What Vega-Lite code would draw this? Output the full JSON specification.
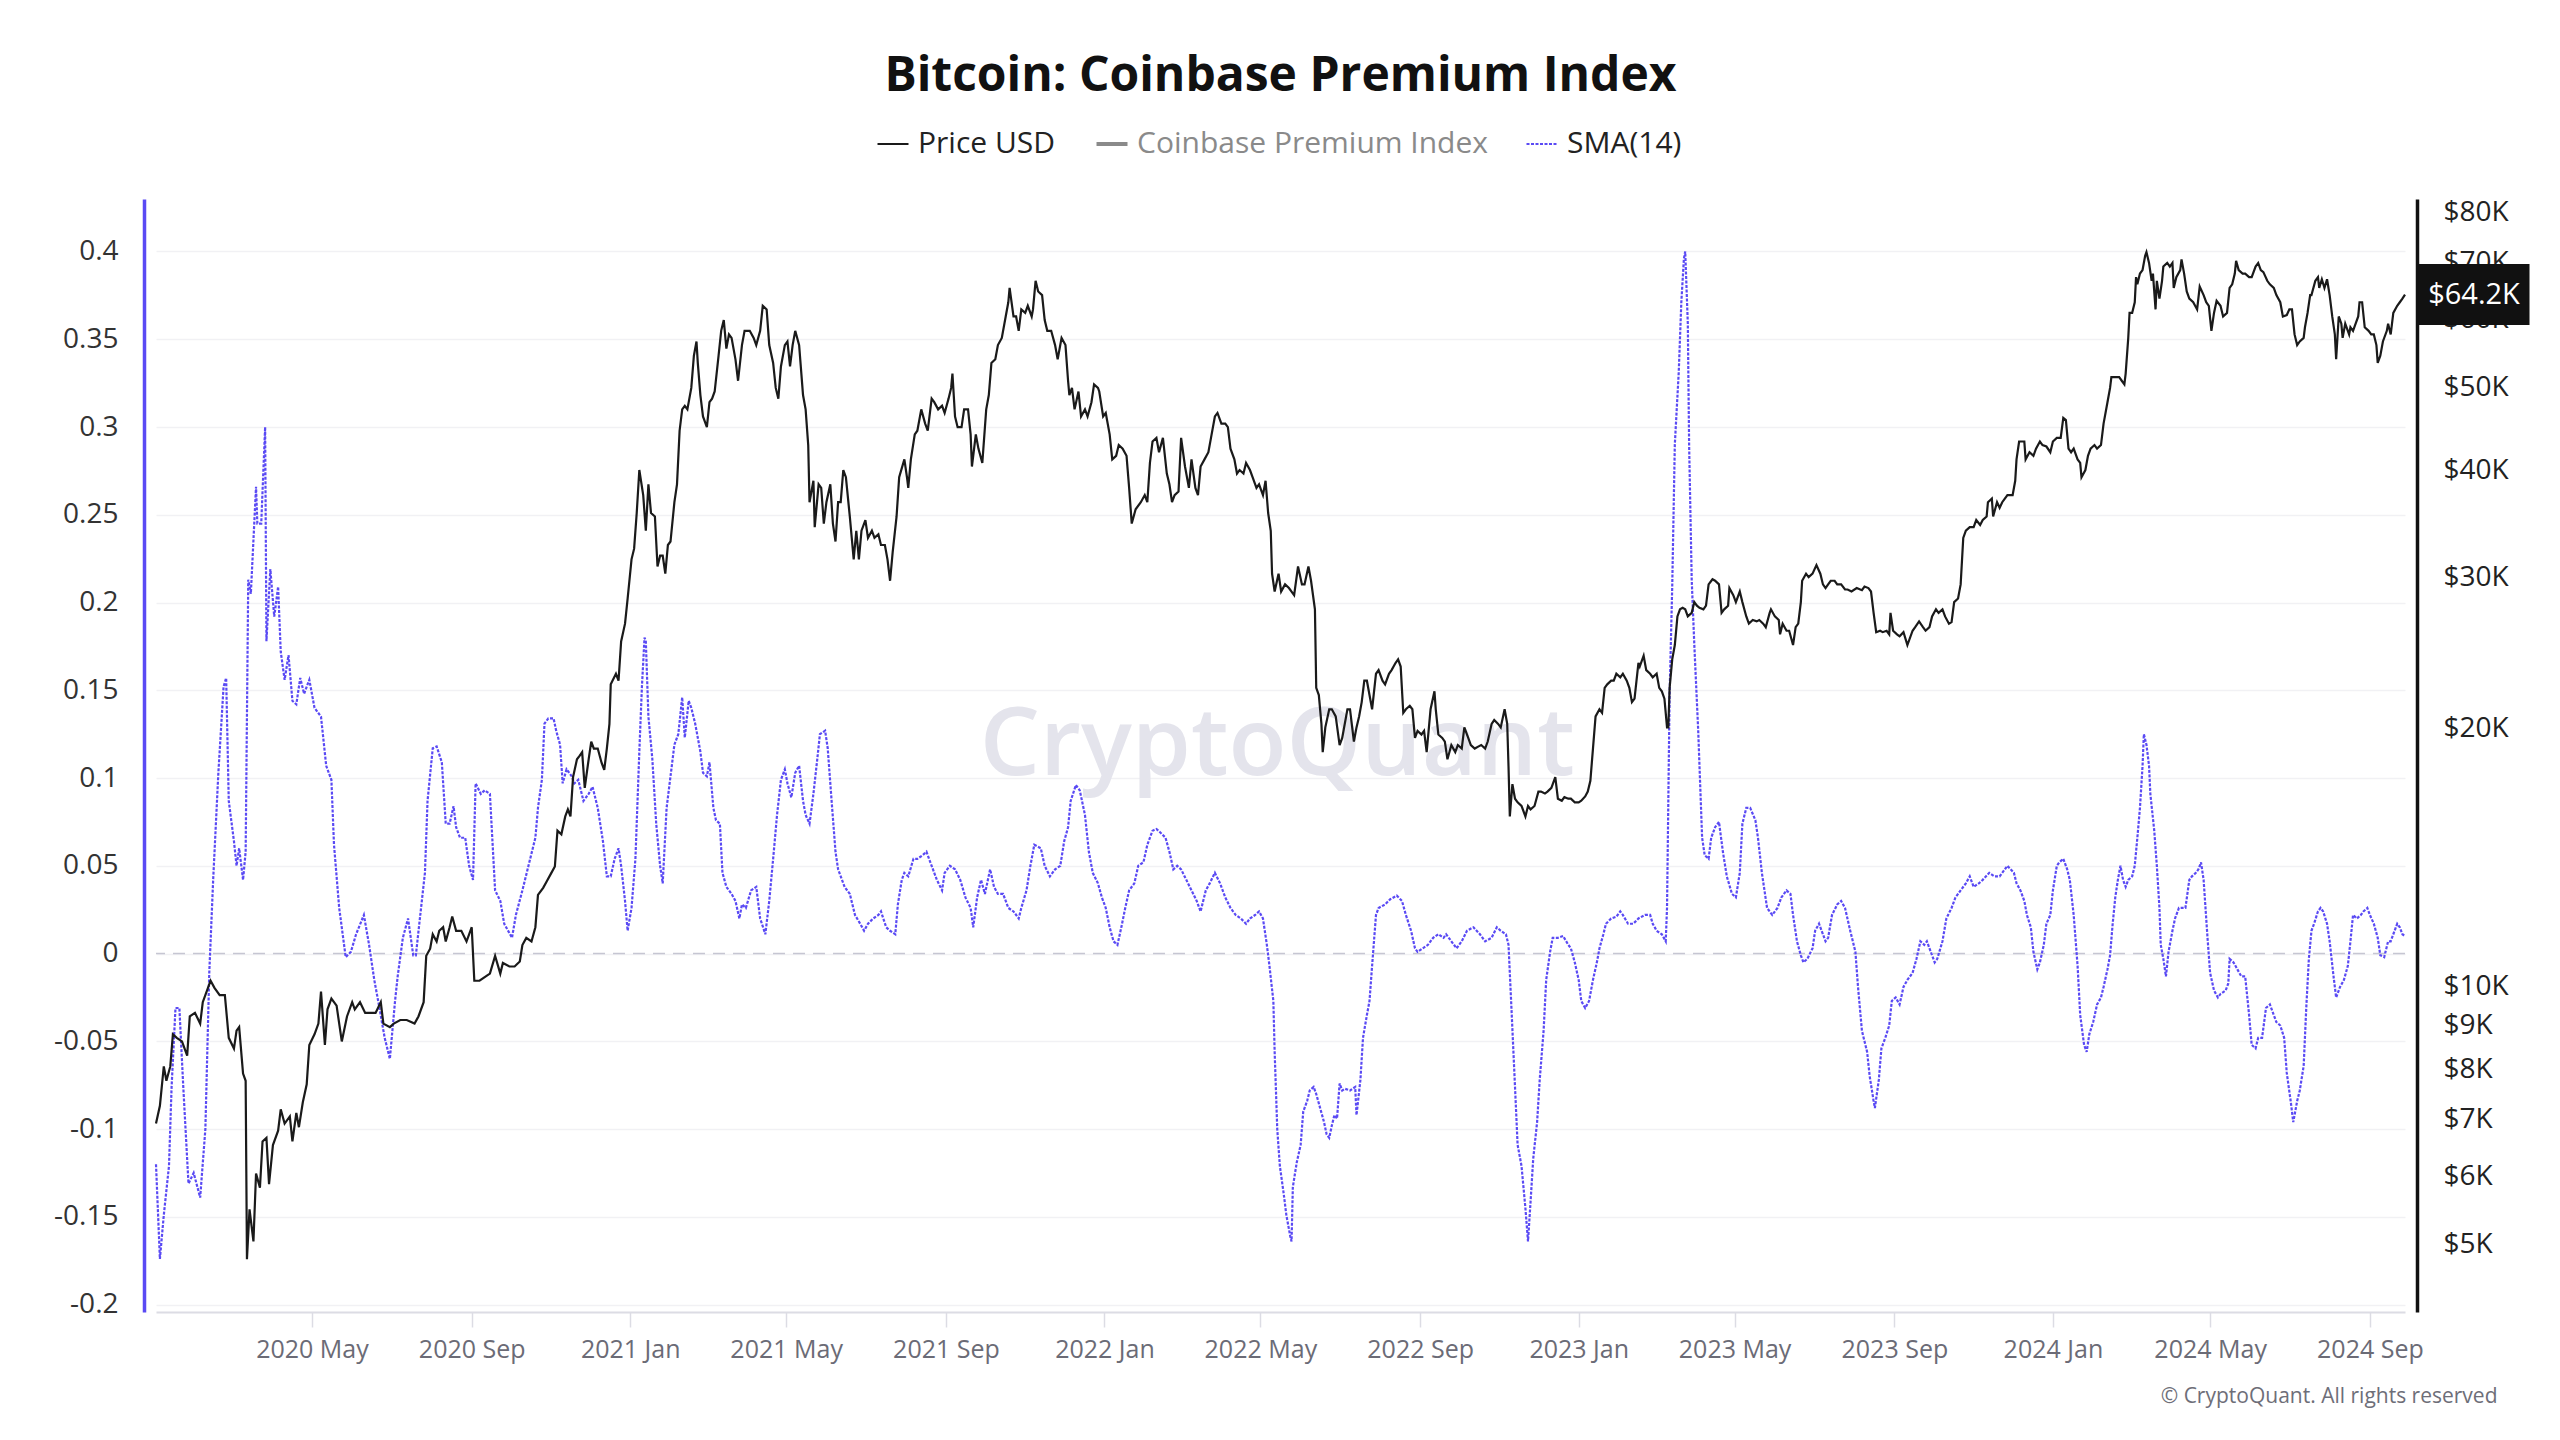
{
  "$schema": "https://vega.github.io/schema/vega-lite/v6.json",
  "width": 2249,
  "height": 1113,
  "autosize": {"type": "none"},
  "padding": {"left": 156, "top": 199, "right": 155, "bottom": 128},
  "background": "white",
  "title": {"text": "Bitcoin: Coinbase Premium Index", "frame": "group", "anchor": "middle", "font": "Open Sans", "fontSize": 48, "fontWeight": "bold", "color": "#111111", "offset": 28},
  "config": {"view": {"stroke": null}, "font": "Open Sans"},
  "datasets": {
    "price": [
      {"d":"2020-01-02","v":6923},{"d":"2020-01-05","v":7261},{"d":"2020-01-08","v":8072},{"d":"2020-01-10","v":7767},{"d":"2020-01-13","v":8072},{"d":"2020-01-15","v":8800},{"d":"2020-01-18","v":8716},{"d":"2020-01-22","v":8633},{"d":"2020-01-26","v":8308},{"d":"2020-01-28","v":9232},
      {"d":"2020-02-01","v":9321},{"d":"2020-02-05","v":9056},{"d":"2020-02-07","v":9593},{"d":"2020-02-11","v":9968},{"d":"2020-02-13","v":10161},{"d":"2020-02-16","v":9968},{"d":"2020-02-20","v":9778},{"d":"2020-02-24","v":9778},{"d":"2020-02-27","v":8716},
      {"d":"2020-03-02","v":8469},{"d":"2020-03-04","v":8885},{"d":"2020-03-06","v":8971},{"d":"2020-03-09","v":7918},{"d":"2020-03-11","v":7767},{"d":"2020-03-12","v":4808},{"d":"2020-03-14","v":5499},{"d":"2020-03-17","v":5044},{"d":"2020-03-19","v":6054},{"d":"2020-03-22","v":5828},{"d":"2020-03-24","v":6598},{"d":"2020-03-27","v":6662},{"d":"2020-03-29","v":5884},
      {"d":"2020-04-01","v":6535},{"d":"2020-04-05","v":6791},{"d":"2020-04-07","v":7193},{"d":"2020-04-10","v":6923},{"d":"2020-04-14","v":7057},{"d":"2020-04-16","v":6598},{"d":"2020-04-19","v":7125},{"d":"2020-04-21","v":6856},{"d":"2020-04-24","v":7332},{"d":"2020-04-27","v":7693},{"d":"2020-04-29","v":8551},
      {"d":"2020-05-03","v":8800},{"d":"2020-05-06","v":9056},{"d":"2020-05-08","v":9872},{"d":"2020-05-11","v":8551},{"d":"2020-05-13","v":9410},{"d":"2020-05-16","v":9685},{"d":"2020-05-20","v":9502},{"d":"2020-05-24","v":8633},{"d":"2020-05-28","v":9232},
      {"d":"2020-06-01","v":9593},{"d":"2020-06-03","v":9410},{"d":"2020-06-07","v":9593},{"d":"2020-06-11","v":9321},{"d":"2020-06-15","v":9321},{"d":"2020-06-19","v":9321},{"d":"2020-06-23","v":9593},{"d":"2020-06-25","v":9056},{"d":"2020-06-30","v":8971},
      {"d":"2020-07-03","v":9056},{"d":"2020-07-08","v":9144},{"d":"2020-07-13","v":9144},{"d":"2020-07-19","v":9056},{"d":"2020-07-22","v":9232},{"d":"2020-07-26","v":9593},{"d":"2020-07-28","v":10864},{"d":"2020-07-31","v":11075},
      {"d":"2020-08-02","v":11509},{"d":"2020-08-05","v":11290},{"d":"2020-08-07","v":11620},{"d":"2020-08-10","v":11733},{"d":"2020-08-12","v":11290},{"d":"2020-08-15","v":11733},{"d":"2020-08-17","v":12075},{"d":"2020-08-20","v":11620},{"d":"2020-08-24","v":11620},{"d":"2020-08-28","v":11290},
      {"d":"2020-09-01","v":11733},{"d":"2020-09-03","v":10161},{"d":"2020-09-07","v":10161},{"d":"2020-09-11","v":10259},{"d":"2020-09-15","v":10357},{"d":"2020-09-19","v":10864},{"d":"2020-09-23","v":10357},{"d":"2020-09-25","v":10658},{"d":"2020-09-30","v":10558},
      {"d":"2020-10-04","v":10558},{"d":"2020-10-08","v":10700},{"d":"2020-10-10","v":11184},{"d":"2020-10-13","v":11399},{"d":"2020-10-17","v":11290},{"d":"2020-10-20","v":11733},{"d":"2020-10-22","v":12800},{"d":"2020-10-26","v":13040},{"d":"2020-10-29","v":13290},
      {"d":"2020-11-01","v":13550},{"d":"2020-11-04","v":13810},{"d":"2020-11-06","v":15210},{"d":"2020-11-09","v":15060},{"d":"2020-11-12","v":15800},{"d":"2020-11-14","v":16100},{"d":"2020-11-16","v":15800},{"d":"2020-11-18","v":17560},{"d":"2020-11-21","v":18420},{"d":"2020-11-23","v":18590},{"d":"2020-11-25","v":18780},{"d":"2020-11-27","v":17060},{"d":"2020-11-30","v":18420},
      {"d":"2020-12-02","v":19320},{"d":"2020-12-04","v":18960},{"d":"2020-12-07","v":18960},{"d":"2020-12-10","v":18240},{"d":"2020-12-12","v":17900},{"d":"2020-12-14","v":18960},{"d":"2020-12-16","v":20260},{"d":"2020-12-17","v":22530},{"d":"2020-12-21","v":23180},{"d":"2020-12-23","v":22750},{"d":"2020-12-25","v":25280},{"d":"2020-12-28","v":26520},{"d":"2020-12-30","v":28370},
      {"d":"2021-01-02","v":31520},{"d":"2021-01-04","v":32440},{"d":"2021-01-06","v":35700},{"d":"2021-01-08","v":40070},{"d":"2021-01-11","v":37460},{"d":"2021-01-13","v":34040},{"d":"2021-01-15","v":38560},{"d":"2021-01-17","v":35700},{"d":"2021-01-20","v":35370},{"d":"2021-01-22","v":30920},{"d":"2021-01-24","v":31830},{"d":"2021-01-26","v":31830},{"d":"2021-01-28","v":30330},{"d":"2021-01-30","v":32760},
      {"d":"2021-02-01","v":33070},{"d":"2021-02-04","v":36750},{"d":"2021-02-06","v":38560},{"d":"2021-02-08","v":44530},{"d":"2021-02-10","v":47160},{"d":"2021-02-12","v":47620},{"d":"2021-02-14","v":47160},{"d":"2021-02-17","v":49960},{"d":"2021-02-19","v":54470},{"d":"2021-02-21","v":56600},{"d":"2021-02-22","v":53430},{"d":"2021-02-24","v":49010},{"d":"2021-02-26","v":46270},
      {"d":"2021-03-01","v":44960},{"d":"2021-03-03","v":48080},{"d":"2021-03-05","v":48540},{"d":"2021-03-07","v":49480},{"d":"2021-03-10","v":54470},{"d":"2021-03-12","v":58240},{"d":"2021-03-14","v":59940},{"d":"2021-03-16","v":55520},{"d":"2021-03-18","v":57680},{"d":"2021-03-20","v":57140},{"d":"2021-03-23","v":53950},{"d":"2021-03-25","v":50930},{"d":"2021-03-28","v":56050},{"d":"2021-03-30","v":58240},
      {"d":"2021-04-03","v":58240},{"d":"2021-04-06","v":57140},{"d":"2021-04-08","v":56050},{"d":"2021-04-11","v":58240},{"d":"2021-04-13","v":62290},{"d":"2021-04-16","v":61690},{"d":"2021-04-18","v":56050},{"d":"2021-04-21","v":53430},{"d":"2021-04-23","v":49960},{"d":"2021-04-25","v":48540},{"d":"2021-04-27","v":52920},{"d":"2021-04-30","v":56050},
      {"d":"2021-05-02","v":56600},{"d":"2021-05-04","v":52920},{"d":"2021-05-06","v":56050},{"d":"2021-05-08","v":58240},{"d":"2021-05-11","v":56050},{"d":"2021-05-14","v":49010},{"d":"2021-05-16","v":47160},{"d":"2021-05-18","v":42850},{"d":"2021-05-19","v":36750},{"d":"2021-05-22","v":38930},{"d":"2021-05-23","v":34370},{"d":"2021-05-26","v":38560},{"d":"2021-05-28","v":38190},{"d":"2021-05-30","v":34700},
      {"d":"2021-06-01","v":36750},{"d":"2021-06-04","v":38560},{"d":"2021-06-06","v":34700},{"d":"2021-06-08","v":33070},{"d":"2021-06-10","v":36750},{"d":"2021-06-12","v":36750},{"d":"2021-06-14","v":40070},{"d":"2021-06-16","v":39300},{"d":"2021-06-19","v":35370},{"d":"2021-06-22","v":31520},{"d":"2021-06-24","v":34040},{"d":"2021-06-26","v":31520},{"d":"2021-06-28","v":34040},
      {"d":"2021-07-01","v":35030},{"d":"2021-07-03","v":33390},{"d":"2021-07-06","v":34040},{"d":"2021-07-08","v":33390},{"d":"2021-07-11","v":33720},{"d":"2021-07-13","v":32760},{"d":"2021-07-16","v":32760},{"d":"2021-07-18","v":31520},{"d":"2021-07-20","v":29760},{"d":"2021-07-22","v":32130},{"d":"2021-07-25","v":35370},{"d":"2021-07-27","v":39300},{"d":"2021-07-31","v":41230},
      {"d":"2021-08-02","v":39300},{"d":"2021-08-03","v":38190},{"d":"2021-08-05","v":41230},{"d":"2021-08-08","v":44100},{"d":"2021-08-10","v":44530},{"d":"2021-08-13","v":47160},{"d":"2021-08-16","v":45390},{"d":"2021-08-18","v":44530},{"d":"2021-08-21","v":48540},{"d":"2021-08-23","v":48080},{"d":"2021-08-26","v":47160},{"d":"2021-08-29","v":47620},{"d":"2021-08-31","v":46710},
      {"d":"2021-09-03","v":48540},{"d":"2021-09-05","v":49960},{"d":"2021-09-06","v":51920},{"d":"2021-09-08","v":46270},{"d":"2021-09-10","v":44960},{"d":"2021-09-13","v":44960},{"d":"2021-09-15","v":47160},{"d":"2021-09-18","v":47160},{"d":"2021-09-20","v":44100},{"d":"2021-09-21","v":40450},{"d":"2021-09-24","v":44100},{"d":"2021-09-26","v":42440},{"d":"2021-09-29","v":40840},
      {"d":"2021-10-02","v":47160},{"d":"2021-10-04","v":49010},{"d":"2021-10-06","v":53430},{"d":"2021-10-09","v":53950},{"d":"2021-10-11","v":56050},{"d":"2021-10-14","v":57140},{"d":"2021-10-17","v":60530},{"d":"2021-10-19","v":62890},{"d":"2021-10-20","v":65350},{"d":"2021-10-23","v":60530},{"d":"2021-10-25","v":60530},{"d":"2021-10-27","v":58240},{"d":"2021-10-29","v":61690},
      {"d":"2021-11-01","v":61110},{"d":"2021-11-03","v":62290},{"d":"2021-11-06","v":60530},{"d":"2021-11-07","v":61690},{"d":"2021-11-09","v":66620},{"d":"2021-11-11","v":64730},{"d":"2021-11-14","v":64110},{"d":"2021-11-16","v":59940},{"d":"2021-11-18","v":58240},{"d":"2021-11-21","v":58240},{"d":"2021-11-24","v":56050},{"d":"2021-11-26","v":53950},{"d":"2021-11-29","v":57140},
      {"d":"2021-12-02","v":56050},{"d":"2021-12-04","v":50930},{"d":"2021-12-05","v":49010},{"d":"2021-12-07","v":49960},{"d":"2021-12-09","v":47160},{"d":"2021-12-12","v":49480},{"d":"2021-12-14","v":46270},{"d":"2021-12-17","v":47160},{"d":"2021-12-19","v":46270},{"d":"2021-12-22","v":48080},{"d":"2021-12-24","v":50440},{"d":"2021-12-27","v":49960},{"d":"2021-12-28","v":49480},{"d":"2021-12-31","v":46270},
      {"d":"2022-01-02","v":46710},{"d":"2022-01-05","v":44100},{"d":"2022-01-07","v":41230},{"d":"2022-01-10","v":41630},{"d":"2022-01-12","v":42850},{"d":"2022-01-15","v":42440},{"d":"2022-01-18","v":41630},{"d":"2022-01-20","v":38190},{"d":"2022-01-22","v":34700},{"d":"2022-01-25","v":36060},{"d":"2022-01-29","v":36750},
      {"d":"2022-02-01","v":37460},{"d":"2022-02-03","v":36750},{"d":"2022-02-05","v":40840},{"d":"2022-02-07","v":43260},{"d":"2022-02-10","v":43680},{"d":"2022-02-12","v":42030},{"d":"2022-02-15","v":43680},{"d":"2022-02-18","v":39690},{"d":"2022-02-20","v":38560},{"d":"2022-02-22","v":36750},{"d":"2022-02-24","v":37460},{"d":"2022-02-27","v":37830},
      {"d":"2022-03-01","v":43680},{"d":"2022-03-04","v":40450},{"d":"2022-03-07","v":38190},{"d":"2022-03-09","v":41230},{"d":"2022-03-12","v":38190},{"d":"2022-03-14","v":37460},{"d":"2022-03-16","v":40450},{"d":"2022-03-19","v":41230},{"d":"2022-03-22","v":42030},{"d":"2022-03-24","v":43680},{"d":"2022-03-27","v":46270},{"d":"2022-03-29","v":46710},
      {"d":"2022-04-01","v":45390},{"d":"2022-04-04","v":45390},{"d":"2022-04-06","v":44960},{"d":"2022-04-08","v":42440},{"d":"2022-04-11","v":41230},{"d":"2022-04-13","v":39690},{"d":"2022-04-15","v":40070},{"d":"2022-04-18","v":39690},{"d":"2022-04-20","v":40840},{"d":"2022-04-23","v":40070},{"d":"2022-04-25","v":39300},{"d":"2022-04-28","v":38190},{"d":"2022-04-30","v":38560},
      {"d":"2022-05-03","v":37460},{"d":"2022-05-05","v":38930},{"d":"2022-05-07","v":35700},{"d":"2022-05-09","v":34040},{"d":"2022-05-10","v":30330},{"d":"2022-05-12","v":28910},{"d":"2022-05-15","v":30330},{"d":"2022-05-17","v":28910},{"d":"2022-05-20","v":29470},{"d":"2022-05-23","v":29180},{"d":"2022-05-25","v":28910},{"d":"2022-05-27","v":28630},{"d":"2022-05-30","v":30920},
      {"d":"2022-06-02","v":29470},{"d":"2022-06-04","v":29470},{"d":"2022-06-07","v":30920},{"d":"2022-06-09","v":29760},{"d":"2022-06-12","v":27560},{"d":"2022-06-13","v":22320},{"d":"2022-06-15","v":21890},{"d":"2022-06-17","v":20260},{"d":"2022-06-18","v":18780},{"d":"2022-06-20","v":20070},{"d":"2022-06-23","v":21070},{"d":"2022-06-25","v":21070},{"d":"2022-06-28","v":20670},
      {"d":"2022-07-01","v":19140},{"d":"2022-07-03","v":19510},{"d":"2022-07-07","v":21070},{"d":"2022-07-09","v":21070},{"d":"2022-07-12","v":19320},{"d":"2022-07-14","v":20070},{"d":"2022-07-16","v":20670},{"d":"2022-07-18","v":21480},{"d":"2022-07-20","v":22750},{"d":"2022-07-22","v":22750},{"d":"2022-07-24","v":21890},{"d":"2022-07-26","v":21070},{"d":"2022-07-29","v":23180},{"d":"2022-07-31","v":23410},
      {"d":"2022-08-03","v":22750},{"d":"2022-08-05","v":22530},{"d":"2022-08-08","v":23180},{"d":"2022-08-10","v":23410},{"d":"2022-08-13","v":23860},{"d":"2022-08-15","v":24090},{"d":"2022-08-17","v":23630},{"d":"2022-08-19","v":20870},{"d":"2022-08-21","v":21070},{"d":"2022-08-24","v":21270},{"d":"2022-08-26","v":21070},{"d":"2022-08-28","v":19510},{"d":"2022-08-30","v":19880},
      {"d":"2022-09-02","v":19690},{"d":"2022-09-04","v":19880},{"d":"2022-09-06","v":18780},{"d":"2022-09-09","v":21070},{"d":"2022-09-12","v":22110},{"d":"2022-09-13","v":21070},{"d":"2022-09-15","v":19690},{"d":"2022-09-18","v":19510},{"d":"2022-09-20","v":19320},{"d":"2022-09-22","v":18420},{"d":"2022-09-25","v":19140},{"d":"2022-09-28","v":18780},{"d":"2022-09-30","v":19140},
      {"d":"2022-10-03","v":18960},{"d":"2022-10-05","v":20070},{"d":"2022-10-08","v":19510},{"d":"2022-10-10","v":19140},{"d":"2022-10-13","v":18960},{"d":"2022-10-16","v":19070},{"d":"2022-10-18","v":19140},{"d":"2022-10-21","v":18960},{"d":"2022-10-23","v":19320},{"d":"2022-10-26","v":20260},{"d":"2022-10-28","v":20470},{"d":"2022-10-31","v":20260},
      {"d":"2022-11-02","v":20070},{"d":"2022-11-05","v":21070},{"d":"2022-11-07","v":20260},{"d":"2022-11-08","v":18070},{"d":"2022-11-09","v":15800},{"d":"2022-11-11","v":17230},{"d":"2022-11-13","v":16570},{"d":"2022-11-15","v":16410},{"d":"2022-11-18","v":16250},{"d":"2022-11-21","v":15800},{"d":"2022-11-23","v":16250},{"d":"2022-11-25","v":16100},{"d":"2022-11-28","v":16250},
      {"d":"2022-12-01","v":16890},{"d":"2022-12-03","v":16890},{"d":"2022-12-06","v":16800},{"d":"2022-12-08","v":16890},{"d":"2022-12-11","v":17060},{"d":"2022-12-14","v":17560},{"d":"2022-12-16","v":16570},{"d":"2022-12-19","v":16480},{"d":"2022-12-21","v":16640},{"d":"2022-12-24","v":16570},{"d":"2022-12-26","v":16570},{"d":"2022-12-29","v":16410},
      {"d":"2023-01-01","v":16410},{"d":"2023-01-03","v":16480},{"d":"2023-01-06","v":16670},{"d":"2023-01-08","v":16890},{"d":"2023-01-10","v":17390},{"d":"2023-01-12","v":18960},{"d":"2023-01-14","v":20670},{"d":"2023-01-17","v":21070},{"d":"2023-01-19","v":20870},{"d":"2023-01-21","v":22320},{"d":"2023-01-23","v":22530},{"d":"2023-01-26","v":22750},{"d":"2023-01-28","v":22750},{"d":"2023-01-30","v":23180},
      {"d":"2023-02-02","v":22960},{"d":"2023-02-04","v":23180},{"d":"2023-02-07","v":22750},{"d":"2023-02-09","v":22320},{"d":"2023-02-11","v":21480},{"d":"2023-02-13","v":21680},{"d":"2023-02-16","v":23860},{"d":"2023-02-17","v":23630},{"d":"2023-02-20","v":24330},{"d":"2023-02-22","v":23410},{"d":"2023-02-25","v":23180},{"d":"2023-02-27","v":22960},
      {"d":"2023-03-02","v":23180},{"d":"2023-03-04","v":22320},{"d":"2023-03-06","v":22110},{"d":"2023-03-08","v":21680},{"d":"2023-03-10","v":20070},{"d":"2023-03-11","v":20070},{"d":"2023-03-12","v":22320},{"d":"2023-03-14","v":24090},{"d":"2023-03-16","v":25040},{"d":"2023-03-18","v":27040},{"d":"2023-03-20","v":27560},{"d":"2023-03-22","v":27670},{"d":"2023-03-24","v":27560},{"d":"2023-03-26","v":27040},{"d":"2023-03-29","v":27300},{"d":"2023-03-31","v":28100},
      {"d":"2023-04-02","v":27830},{"d":"2023-04-04","v":27670},{"d":"2023-04-07","v":27560},{"d":"2023-04-09","v":27830},{"d":"2023-04-11","v":29470},{"d":"2023-04-14","v":29880},{"d":"2023-04-16","v":29760},{"d":"2023-04-19","v":29470},{"d":"2023-04-21","v":27300},{"d":"2023-04-23","v":27560},{"d":"2023-04-26","v":27830},{"d":"2023-04-27","v":29180},{"d":"2023-04-30","v":28630},
      {"d":"2023-05-02","v":28100},{"d":"2023-05-05","v":28910},{"d":"2023-05-07","v":28100},{"d":"2023-05-10","v":27040},{"d":"2023-05-12","v":26520},{"d":"2023-05-15","v":26780},{"d":"2023-05-18","v":26680},{"d":"2023-05-20","v":26780},{"d":"2023-05-23","v":26520},{"d":"2023-05-25","v":26270},{"d":"2023-05-28","v":27300},{"d":"2023-05-29","v":27560},
      {"d":"2023-06-01","v":27040},{"d":"2023-06-04","v":26780},{"d":"2023-06-05","v":25770},{"d":"2023-06-07","v":26520},{"d":"2023-06-10","v":26020},{"d":"2023-06-12","v":26020},{"d":"2023-06-15","v":25040},{"d":"2023-06-17","v":26270},{"d":"2023-06-19","v":26520},{"d":"2023-06-21","v":28100},{"d":"2023-06-22","v":29760},{"d":"2023-06-25","v":30330},{"d":"2023-06-27","v":30050},{"d":"2023-06-30","v":30330},
      {"d":"2023-07-03","v":31040},{"d":"2023-07-06","v":30330},{"d":"2023-07-08","v":29470},{"d":"2023-07-10","v":29180},{"d":"2023-07-12","v":29470},{"d":"2023-07-14","v":29760},{"d":"2023-07-17","v":29760},{"d":"2023-07-19","v":29470},{"d":"2023-07-22","v":29470},{"d":"2023-07-25","v":29070},{"d":"2023-07-27","v":29070},{"d":"2023-07-30","v":28910},
      {"d":"2023-08-03","v":29180},{"d":"2023-08-07","v":29010},{"d":"2023-08-09","v":29300},{"d":"2023-08-12","v":29180},{"d":"2023-08-14","v":28910},{"d":"2023-08-16","v":27300},{"d":"2023-08-18","v":25920},{"d":"2023-08-21","v":26020},{"d":"2023-08-23","v":25920},{"d":"2023-08-26","v":26020},{"d":"2023-08-28","v":25770},{"d":"2023-08-29","v":27300},{"d":"2023-08-31","v":26020},
      {"d":"2023-09-03","v":25770},{"d":"2023-09-05","v":25630},{"d":"2023-09-08","v":25920},{"d":"2023-09-11","v":25040},{"d":"2023-09-15","v":26020},{"d":"2023-09-17","v":26270},{"d":"2023-09-20","v":26680},{"d":"2023-09-23","v":26270},{"d":"2023-09-25","v":26020},{"d":"2023-09-28","v":26270},{"d":"2023-09-30","v":27040},
      {"d":"2023-10-03","v":27560},{"d":"2023-10-05","v":27300},{"d":"2023-10-08","v":27560},{"d":"2023-10-10","v":27040},{"d":"2023-10-13","v":26520},{"d":"2023-10-15","v":26630},{"d":"2023-10-17","v":28100},{"d":"2023-10-20","v":28370},{"d":"2023-10-22","v":29470},{"d":"2023-10-24","v":33390},{"d":"2023-10-26","v":34040},{"d":"2023-10-29","v":34370},
      {"d":"2023-11-01","v":34370},{"d":"2023-11-03","v":35030},{"d":"2023-11-06","v":34570},{"d":"2023-11-08","v":35030},{"d":"2023-11-11","v":35370},{"d":"2023-11-12","v":36750},{"d":"2023-11-15","v":37100},{"d":"2023-11-16","v":35370},{"d":"2023-11-19","v":36750},{"d":"2023-11-21","v":36200},{"d":"2023-11-23","v":36750},{"d":"2023-11-25","v":37100},{"d":"2023-11-27","v":37460},
      {"d":"2023-12-01","v":37460},{"d":"2023-12-03","v":38930},{"d":"2023-12-04","v":41230},{"d":"2023-12-06","v":43260},{"d":"2023-12-08","v":43260},{"d":"2023-12-10","v":43260},{"d":"2023-12-11","v":41230},{"d":"2023-12-14","v":42030},{"d":"2023-12-17","v":41630},{"d":"2023-12-19","v":42440},{"d":"2023-12-22","v":43260},{"d":"2023-12-24","v":42850},{"d":"2023-12-27","v":42680},{"d":"2023-12-30","v":42030},
      {"d":"2024-01-01","v":43260},{"d":"2024-01-04","v":43680},{"d":"2024-01-07","v":43680},{"d":"2024-01-09","v":46090},{"d":"2024-01-11","v":45830},{"d":"2024-01-13","v":42440},{"d":"2024-01-15","v":42030},{"d":"2024-01-17","v":42440},{"d":"2024-01-20","v":41230},{"d":"2024-01-22","v":40840},{"d":"2024-01-23","v":39300},{"d":"2024-01-26","v":40070},{"d":"2024-01-28","v":41630},{"d":"2024-01-30","v":42440},
      {"d":"2024-02-02","v":42850},{"d":"2024-02-04","v":42440},{"d":"2024-02-07","v":42850},{"d":"2024-02-09","v":45390},{"d":"2024-02-12","v":48080},{"d":"2024-02-14","v":49960},{"d":"2024-02-15","v":51420},{"d":"2024-02-18","v":51420},{"d":"2024-02-21","v":51420},{"d":"2024-02-23","v":50930},{"d":"2024-02-25","v":50440},{"d":"2024-02-26","v":51920},{"d":"2024-02-28","v":57140},{"d":"2024-02-29","v":61110},
      {"d":"2024-03-02","v":61110},{"d":"2024-03-04","v":62890},{"d":"2024-03-05","v":67270},{"d":"2024-03-06","v":65990},{"d":"2024-03-08","v":67920},{"d":"2024-03-10","v":68570},{"d":"2024-03-12","v":71250},{"d":"2024-03-13","v":71950},{"d":"2024-03-15","v":69890},{"d":"2024-03-17","v":66620},{"d":"2024-03-18","v":67920},{"d":"2024-03-20","v":61690},{"d":"2024-03-21","v":66620},{"d":"2024-03-23","v":63500},{"d":"2024-03-25","v":66620},{"d":"2024-03-26","v":69220},{"d":"2024-03-29","v":69890},{"d":"2024-03-31","v":69220},
      {"d":"2024-04-02","v":69890},{"d":"2024-04-03","v":65350},{"d":"2024-04-05","v":67270},{"d":"2024-04-08","v":68570},{"d":"2024-04-09","v":70570},{"d":"2024-04-11","v":67920},{"d":"2024-04-13","v":64730},{"d":"2024-04-15","v":63500},{"d":"2024-04-18","v":62890},{"d":"2024-04-21","v":61690},{"d":"2024-04-23","v":65600},{"d":"2024-04-26","v":64110},{"d":"2024-04-28","v":62890},{"d":"2024-04-30","v":62290},
      {"d":"2024-05-02","v":58240},{"d":"2024-05-04","v":61110},{"d":"2024-05-06","v":63130},{"d":"2024-05-09","v":62290},{"d":"2024-05-11","v":60530},{"d":"2024-05-14","v":61110},{"d":"2024-05-16","v":65350},{"d":"2024-05-18","v":65990},{"d":"2024-05-20","v":67920},{"d":"2024-05-21","v":70300},{"d":"2024-05-23","v":68570},{"d":"2024-05-26","v":67920},{"d":"2024-05-28","v":67920},{"d":"2024-05-31","v":67270},
      {"d":"2024-06-02","v":67270},{"d":"2024-06-05","v":69220},{"d":"2024-06-07","v":69890},{"d":"2024-06-09","v":68570},{"d":"2024-06-11","v":68180},{"d":"2024-06-14","v":66620},{"d":"2024-06-16","v":65990},{"d":"2024-06-19","v":65350},{"d":"2024-06-21","v":64110},{"d":"2024-06-24","v":62890},{"d":"2024-06-26","v":60530},{"d":"2024-06-29","v":60760},
      {"d":"2024-07-01","v":61690},{"d":"2024-07-03","v":61690},{"d":"2024-07-05","v":57680},{"d":"2024-07-07","v":56050},{"d":"2024-07-09","v":56600},{"d":"2024-07-12","v":57140},{"d":"2024-07-13","v":58800},{"d":"2024-07-15","v":61110},{"d":"2024-07-17","v":64110},{"d":"2024-07-18","v":64110},{"d":"2024-07-21","v":66620},{"d":"2024-07-23","v":67270},{"d":"2024-07-24","v":65350},{"d":"2024-07-26","v":66890},{"d":"2024-07-28","v":65350},{"d":"2024-07-30","v":66890},
      {"d":"2024-08-01","v":64110},{"d":"2024-08-03","v":60530},{"d":"2024-08-05","v":57680},{"d":"2024-08-06","v":53950},{"d":"2024-08-08","v":60530},{"d":"2024-08-10","v":59370},{"d":"2024-08-11","v":57140},{"d":"2024-08-13","v":59370},{"d":"2024-08-16","v":57680},{"d":"2024-08-17","v":58800},{"d":"2024-08-19","v":58240},{"d":"2024-08-21","v":59370},{"d":"2024-08-23","v":60530},{"d":"2024-08-24","v":62890},{"d":"2024-08-26","v":62890},{"d":"2024-08-28","v":58800},{"d":"2024-08-31","v":58240},
      {"d":"2024-09-02","v":57680},{"d":"2024-09-04","v":57680},{"d":"2024-09-06","v":56050},{"d":"2024-09-07","v":53430},{"d":"2024-09-09","v":54470},{"d":"2024-09-11","v":56600},{"d":"2024-09-14","v":58240},{"d":"2024-09-15","v":59370},{"d":"2024-09-17","v":57680},{"d":"2024-09-19","v":61110},{"d":"2024-09-22","v":62290},{"d":"2024-09-24","v":62890},{"d":"2024-09-26","v":63500},{"d":"2024-09-28","v":64200}
    ],
    "sma": [
      {"d":"2020-01-02","v":-0.12},{"d":"2020-01-05","v":-0.174},{"d":"2020-01-08","v":-0.149},{"d":"2020-01-12","v":-0.121},{"d":"2020-01-14","v":-0.076},{"d":"2020-01-17","v":-0.031},{"d":"2020-01-20","v":-0.031},{"d":"2020-01-23","v":-0.076},{"d":"2020-01-27","v":-0.131},{"d":"2020-01-31","v":-0.125},
      {"d":"2020-02-05","v":-0.139},{"d":"2020-02-09","v":-0.1},{"d":"2020-02-12","v":-0.011},{"d":"2020-02-15","v":0.042},{"d":"2020-02-19","v":0.103},{"d":"2020-02-23","v":0.152},{"d":"2020-02-25","v":0.157},{"d":"2020-02-27","v":0.087},
      {"d":"2020-03-02","v":0.064},{"d":"2020-03-04","v":0.05},{"d":"2020-03-06","v":0.06},{"d":"2020-03-09","v":0.042},{"d":"2020-03-11","v":0.058},{"d":"2020-03-13","v":0.213},{"d":"2020-03-15","v":0.205},{"d":"2020-03-19","v":0.266},{"d":"2020-03-20","v":0.245},{"d":"2020-03-23","v":0.245},{"d":"2020-03-26","v":0.3},{"d":"2020-03-27","v":0.178},{"d":"2020-03-30","v":0.219},
      {"d":"2020-04-02","v":0.192},{"d":"2020-04-05","v":0.209},{"d":"2020-04-07","v":0.172},{"d":"2020-04-10","v":0.156},{"d":"2020-04-13","v":0.17},{"d":"2020-04-16","v":0.144},{"d":"2020-04-19","v":0.142},{"d":"2020-04-22","v":0.157},{"d":"2020-04-25","v":0.148},{"d":"2020-04-29","v":0.156},
      {"d":"2020-05-03","v":0.14},{"d":"2020-05-08","v":0.135},{"d":"2020-05-12","v":0.107},{"d":"2020-05-16","v":0.099},{"d":"2020-05-18","v":0.062},{"d":"2020-05-22","v":0.026},{"d":"2020-05-27","v":-0.002},{"d":"2020-05-31","v":0.001},
      {"d":"2020-06-04","v":0.011},{"d":"2020-06-10","v":0.022},{"d":"2020-06-14","v":0.005},{"d":"2020-06-18","v":-0.015},{"d":"2020-06-22","v":-0.031},{"d":"2020-06-26","v":-0.048},{"d":"2020-06-30","v":-0.06},
      {"d":"2020-07-04","v":-0.027},{"d":"2020-07-06","v":-0.013},{"d":"2020-07-10","v":0.009},{"d":"2020-07-14","v":0.02},{"d":"2020-07-18","v":-0.001},{"d":"2020-07-20","v":-0.001},{"d":"2020-07-24","v":0.026},{"d":"2020-07-27","v":0.046},{"d":"2020-07-29","v":0.087},
      {"d":"2020-08-02","v":0.117},{"d":"2020-08-05","v":0.118},{"d":"2020-08-09","v":0.109},{"d":"2020-08-12","v":0.074},{"d":"2020-08-15","v":0.074},{"d":"2020-08-18","v":0.084},{"d":"2020-08-20","v":0.072},{"d":"2020-08-23","v":0.066},{"d":"2020-08-27","v":0.066},{"d":"2020-08-30","v":0.05},
      {"d":"2020-09-02","v":0.042},{"d":"2020-09-04","v":0.097},{"d":"2020-09-08","v":0.091},{"d":"2020-09-11","v":0.093},{"d":"2020-09-15","v":0.091},{"d":"2020-09-19","v":0.036},{"d":"2020-09-23","v":0.03},{"d":"2020-09-26","v":0.017},
      {"d":"2020-10-02","v":0.009},{"d":"2020-10-05","v":0.022},{"d":"2020-10-10","v":0.036},{"d":"2020-10-16","v":0.054},{"d":"2020-10-20","v":0.066},{"d":"2020-10-22","v":0.083},{"d":"2020-10-25","v":0.099},{"d":"2020-10-27","v":0.131},{"d":"2020-10-30","v":0.134},
      {"d":"2020-11-03","v":0.134},{"d":"2020-11-05","v":0.127},{"d":"2020-11-08","v":0.119},{"d":"2020-11-10","v":0.097},{"d":"2020-11-13","v":0.105},{"d":"2020-11-17","v":0.101},{"d":"2020-11-19","v":0.097},{"d":"2020-11-22","v":0.099},{"d":"2020-11-26","v":0.087},{"d":"2020-11-30","v":0.091},
      {"d":"2020-12-03","v":0.095},{"d":"2020-12-07","v":0.083},{"d":"2020-12-11","v":0.064},{"d":"2020-12-14","v":0.044},{"d":"2020-12-17","v":0.044},{"d":"2020-12-20","v":0.054},{"d":"2020-12-23","v":0.06},{"d":"2020-12-25","v":0.05},{"d":"2020-12-28","v":0.03},{"d":"2020-12-30","v":0.013},
      {"d":"2021-01-02","v":0.026},{"d":"2021-01-05","v":0.054},{"d":"2021-01-08","v":0.115},{"d":"2021-01-10","v":0.152},{"d":"2021-01-12","v":0.18},{"d":"2021-01-13","v":0.178},{"d":"2021-01-15","v":0.135},{"d":"2021-01-18","v":0.111},{"d":"2021-01-21","v":0.074},{"d":"2021-01-24","v":0.05},{"d":"2021-01-26","v":0.04},{"d":"2021-01-29","v":0.083},
      {"d":"2021-02-02","v":0.107},{"d":"2021-02-04","v":0.119},{"d":"2021-02-07","v":0.125},{"d":"2021-02-10","v":0.146},{"d":"2021-02-12","v":0.123},{"d":"2021-02-15","v":0.144},{"d":"2021-02-17","v":0.14},{"d":"2021-02-20","v":0.131},{"d":"2021-02-24","v":0.115},{"d":"2021-02-26","v":0.103},
      {"d":"2021-03-01","v":0.101},{"d":"2021-03-03","v":0.109},{"d":"2021-03-06","v":0.083},{"d":"2021-03-08","v":0.076},{"d":"2021-03-11","v":0.074},{"d":"2021-03-13","v":0.046},{"d":"2021-03-16","v":0.038},{"d":"2021-03-20","v":0.034},{"d":"2021-03-23","v":0.03},{"d":"2021-03-26","v":0.02},{"d":"2021-03-28","v":0.028},{"d":"2021-03-31","v":0.026},
      {"d":"2021-04-04","v":0.036},{"d":"2021-04-08","v":0.038},{"d":"2021-04-11","v":0.02},{"d":"2021-04-15","v":0.011},{"d":"2021-04-18","v":0.03},{"d":"2021-04-21","v":0.054},{"d":"2021-04-24","v":0.079},{"d":"2021-04-27","v":0.099},{"d":"2021-04-30","v":0.105},
      {"d":"2021-05-02","v":0.097},{"d":"2021-05-05","v":0.089},{"d":"2021-05-08","v":0.103},{"d":"2021-05-11","v":0.107},{"d":"2021-05-14","v":0.087},{"d":"2021-05-16","v":0.079},{"d":"2021-05-19","v":0.074},{"d":"2021-05-22","v":0.091},{"d":"2021-05-25","v":0.111},{"d":"2021-05-27","v":0.125},{"d":"2021-05-31","v":0.127},
      {"d":"2021-06-02","v":0.117},{"d":"2021-06-05","v":0.087},{"d":"2021-06-08","v":0.058},{"d":"2021-06-10","v":0.048},{"d":"2021-06-13","v":0.042},{"d":"2021-06-15","v":0.038},{"d":"2021-06-19","v":0.034},{"d":"2021-06-23","v":0.022},{"d":"2021-06-27","v":0.017},{"d":"2021-06-30","v":0.013},
      {"d":"2021-07-03","v":0.017},{"d":"2021-07-07","v":0.02},{"d":"2021-07-11","v":0.022},{"d":"2021-07-13","v":0.024},{"d":"2021-07-17","v":0.015},{"d":"2021-07-20","v":0.013},{"d":"2021-07-24","v":0.011},{"d":"2021-07-26","v":0.028},{"d":"2021-07-29","v":0.042},{"d":"2021-07-31","v":0.046},
      {"d":"2021-08-03","v":0.044},{"d":"2021-08-07","v":0.054},{"d":"2021-08-10","v":0.054},{"d":"2021-08-14","v":0.056},{"d":"2021-08-17","v":0.058},{"d":"2021-08-21","v":0.05},{"d":"2021-08-25","v":0.042},{"d":"2021-08-29","v":0.036},{"d":"2021-08-31","v":0.046},
      {"d":"2021-09-04","v":0.05},{"d":"2021-09-08","v":0.048},{"d":"2021-09-12","v":0.042},{"d":"2021-09-16","v":0.032},{"d":"2021-09-20","v":0.026},{"d":"2021-09-22","v":0.015},{"d":"2021-09-25","v":0.032},{"d":"2021-09-28","v":0.042},
      {"d":"2021-10-01","v":0.034},{"d":"2021-10-05","v":0.048},{"d":"2021-10-08","v":0.038},{"d":"2021-10-11","v":0.034},{"d":"2021-10-15","v":0.034},{"d":"2021-10-19","v":0.026},{"d":"2021-10-23","v":0.024},{"d":"2021-10-27","v":0.02},{"d":"2021-10-29","v":0.026},
      {"d":"2021-11-02","v":0.036},{"d":"2021-11-05","v":0.05},{"d":"2021-11-08","v":0.062},{"d":"2021-11-13","v":0.06},{"d":"2021-11-16","v":0.05},{"d":"2021-11-20","v":0.044},{"d":"2021-11-24","v":0.048},{"d":"2021-11-28","v":0.05},
      {"d":"2021-12-01","v":0.064},{"d":"2021-12-04","v":0.072},{"d":"2021-12-06","v":0.087},{"d":"2021-12-10","v":0.096},{"d":"2021-12-13","v":0.093},{"d":"2021-12-17","v":0.079},{"d":"2021-12-20","v":0.058},{"d":"2021-12-23","v":0.046},{"d":"2021-12-27","v":0.04},{"d":"2021-12-30","v":0.032},
      {"d":"2022-01-02","v":0.026},{"d":"2022-01-05","v":0.015},{"d":"2022-01-08","v":0.007},{"d":"2022-01-11","v":0.005},{"d":"2022-01-14","v":0.015},{"d":"2022-01-17","v":0.026},{"d":"2022-01-20","v":0.036},{"d":"2022-01-24","v":0.04},{"d":"2022-01-27","v":0.05},{"d":"2022-01-31","v":0.052},
      {"d":"2022-02-03","v":0.062},{"d":"2022-02-07","v":0.07},{"d":"2022-02-10","v":0.071},{"d":"2022-02-13","v":0.069},{"d":"2022-02-17","v":0.066},{"d":"2022-02-20","v":0.058},{"d":"2022-02-23","v":0.048},{"d":"2022-02-26","v":0.05},
      {"d":"2022-03-01","v":0.048},{"d":"2022-03-05","v":0.042},{"d":"2022-03-09","v":0.036},{"d":"2022-03-13","v":0.03},{"d":"2022-03-16","v":0.024},{"d":"2022-03-20","v":0.036},{"d":"2022-03-23","v":0.04},{"d":"2022-03-27","v":0.046},{"d":"2022-03-31","v":0.04},
      {"d":"2022-04-04","v":0.032},{"d":"2022-04-08","v":0.026},{"d":"2022-04-12","v":0.022},{"d":"2022-04-16","v":0.02},{"d":"2022-04-20","v":0.017},{"d":"2022-04-23","v":0.02},{"d":"2022-04-27","v":0.022},{"d":"2022-04-30","v":0.024},
      {"d":"2022-05-03","v":0.02},{"d":"2022-05-06","v":0.005},{"d":"2022-05-08","v":-0.007},{"d":"2022-05-11","v":-0.027},{"d":"2022-05-12","v":-0.056},{"d":"2022-05-14","v":-0.1},{"d":"2022-05-16","v":-0.121},{"d":"2022-05-19","v":-0.137},{"d":"2022-05-21","v":-0.149},{"d":"2022-05-24","v":-0.161},{"d":"2022-05-25","v":-0.164},{"d":"2022-05-26","v":-0.133},{"d":"2022-05-29","v":-0.119},
      {"d":"2022-06-01","v":-0.109},{"d":"2022-06-03","v":-0.09},{"d":"2022-06-06","v":-0.084},{"d":"2022-06-08","v":-0.078},{"d":"2022-06-11","v":-0.076},{"d":"2022-06-13","v":-0.08},{"d":"2022-06-16","v":-0.088},{"d":"2022-06-19","v":-0.096},{"d":"2022-06-21","v":-0.103},{"d":"2022-06-23","v":-0.105},{"d":"2022-06-25","v":-0.098},{"d":"2022-06-27","v":-0.092},{"d":"2022-06-29","v":-0.094},
      {"d":"2022-07-01","v":-0.074},{"d":"2022-07-03","v":-0.078},{"d":"2022-07-05","v":-0.077},{"d":"2022-07-09","v":-0.078},{"d":"2022-07-13","v":-0.076},{"d":"2022-07-14","v":-0.092},{"d":"2022-07-17","v":-0.072},{"d":"2022-07-19","v":-0.048},{"d":"2022-07-22","v":-0.035},{"d":"2022-07-24","v":-0.027},{"d":"2022-07-26","v":-0.007},{"d":"2022-07-29","v":0.022},{"d":"2022-07-31","v":0.026},
      {"d":"2022-08-05","v":0.028},{"d":"2022-08-09","v":0.031},{"d":"2022-08-14","v":0.033},{"d":"2022-08-18","v":0.03},{"d":"2022-08-21","v":0.022},{"d":"2022-08-25","v":0.013},{"d":"2022-08-28","v":0.003},{"d":"2022-08-30","v":0.001},
      {"d":"2022-09-03","v":0.003},{"d":"2022-09-07","v":0.005},{"d":"2022-09-11","v":0.009},{"d":"2022-09-15","v":0.011},{"d":"2022-09-19","v":0.009},{"d":"2022-09-21","v":0.011},{"d":"2022-09-25","v":0.007},{"d":"2022-09-29","v":0.003},
      {"d":"2022-10-03","v":0.007},{"d":"2022-10-07","v":0.013},{"d":"2022-10-12","v":0.015},{"d":"2022-10-17","v":0.011},{"d":"2022-10-21","v":0.007},{"d":"2022-10-26","v":0.009},{"d":"2022-10-30","v":0.015},
      {"d":"2022-11-02","v":0.013},{"d":"2022-11-06","v":0.011},{"d":"2022-11-08","v":0.005},{"d":"2022-11-10","v":-0.027},{"d":"2022-11-13","v":-0.076},{"d":"2022-11-15","v":-0.109},{"d":"2022-11-18","v":-0.121},{"d":"2022-11-21","v":-0.145},{"d":"2022-11-23","v":-0.164},{"d":"2022-11-25","v":-0.141},{"d":"2022-11-27","v":-0.117},{"d":"2022-11-30","v":-0.096},
      {"d":"2022-12-02","v":-0.072},{"d":"2022-12-05","v":-0.044},{"d":"2022-12-07","v":-0.015},{"d":"2022-12-10","v":0.001},{"d":"2022-12-12","v":0.009},{"d":"2022-12-16","v":0.009},{"d":"2022-12-20","v":0.01},{"d":"2022-12-24","v":0.005},{"d":"2022-12-26","v":0.003},{"d":"2022-12-29","v":-0.005},
      {"d":"2023-01-01","v":-0.015},{"d":"2023-01-03","v":-0.027},{"d":"2023-01-06","v":-0.031},{"d":"2023-01-09","v":-0.027},{"d":"2023-01-12","v":-0.015},{"d":"2023-01-15","v":-0.005},{"d":"2023-01-17","v":0.003},{"d":"2023-01-20","v":0.011},{"d":"2023-01-22","v":0.017},{"d":"2023-01-26","v":0.02},{"d":"2023-01-30","v":0.021},
      {"d":"2023-02-02","v":0.024},{"d":"2023-02-04","v":0.022},{"d":"2023-02-08","v":0.017},{"d":"2023-02-12","v":0.017},{"d":"2023-02-16","v":0.02},{"d":"2023-02-21","v":0.022},{"d":"2023-02-25","v":0.022},{"d":"2023-02-27","v":0.017},
      {"d":"2023-03-02","v":0.013},{"d":"2023-03-06","v":0.011},{"d":"2023-03-09","v":0.007},{"d":"2023-03-10","v":0.026},{"d":"2023-03-12","v":0.148},{"d":"2023-03-14","v":0.209},{"d":"2023-03-16","v":0.29},{"d":"2023-03-19","v":0.331},{"d":"2023-03-21","v":0.371},{"d":"2023-03-23","v":0.396},{"d":"2023-03-24","v":0.4},{"d":"2023-03-26","v":0.359},{"d":"2023-03-27","v":0.29},{"d":"2023-03-29","v":0.213},{"d":"2023-03-31","v":0.176},
      {"d":"2023-04-03","v":0.127},{"d":"2023-04-06","v":0.066},{"d":"2023-04-08","v":0.056},{"d":"2023-04-11","v":0.054},{"d":"2023-04-13","v":0.066},{"d":"2023-04-16","v":0.072},{"d":"2023-04-19","v":0.075},{"d":"2023-04-22","v":0.058},{"d":"2023-04-25","v":0.044},{"d":"2023-04-29","v":0.034},
      {"d":"2023-05-02","v":0.032},{"d":"2023-05-05","v":0.046},{"d":"2023-05-07","v":0.074},{"d":"2023-05-10","v":0.083},{"d":"2023-05-13","v":0.083},{"d":"2023-05-17","v":0.076},{"d":"2023-05-19","v":0.066},{"d":"2023-05-22","v":0.046},{"d":"2023-05-26","v":0.026},{"d":"2023-05-30","v":0.022},
      {"d":"2023-06-03","v":0.026},{"d":"2023-06-06","v":0.032},{"d":"2023-06-10","v":0.036},{"d":"2023-06-13","v":0.034},{"d":"2023-06-15","v":0.022},{"d":"2023-06-18","v":0.007},{"d":"2023-06-21","v":-0.001},{"d":"2023-06-23","v":-0.005},{"d":"2023-06-26","v":-0.003},{"d":"2023-06-30","v":0.003},
      {"d":"2023-07-02","v":0.013},{"d":"2023-07-05","v":0.017},{"d":"2023-07-07","v":0.013},{"d":"2023-07-10","v":0.007},{"d":"2023-07-12","v":0.009},{"d":"2023-07-15","v":0.022},{"d":"2023-07-19","v":0.028},{"d":"2023-07-22","v":0.03},{"d":"2023-07-25","v":0.026},{"d":"2023-07-29","v":0.013},
      {"d":"2023-08-02","v":0.001},{"d":"2023-08-04","v":-0.019},{"d":"2023-08-07","v":-0.044},{"d":"2023-08-11","v":-0.056},{"d":"2023-08-13","v":-0.07},{"d":"2023-08-16","v":-0.084},{"d":"2023-08-17","v":-0.088},{"d":"2023-08-20","v":-0.072},{"d":"2023-08-22","v":-0.054},{"d":"2023-08-25","v":-0.048},{"d":"2023-08-28","v":-0.041},{"d":"2023-08-30","v":-0.027},
      {"d":"2023-09-02","v":-0.025},{"d":"2023-09-05","v":-0.029},{"d":"2023-09-08","v":-0.019},{"d":"2023-09-11","v":-0.015},{"d":"2023-09-15","v":-0.011},{"d":"2023-09-18","v":-0.003},{"d":"2023-09-21","v":0.007},{"d":"2023-09-24","v":0.005},{"d":"2023-09-26","v":0.007},{"d":"2023-09-29","v":0.001},
      {"d":"2023-10-02","v":-0.005},{"d":"2023-10-04","v":-0.003},{"d":"2023-10-08","v":0.007},{"d":"2023-10-11","v":0.02},{"d":"2023-10-15","v":0.026},{"d":"2023-10-18","v":0.032},{"d":"2023-10-22","v":0.036},{"d":"2023-10-26","v":0.04},{"d":"2023-10-29","v":0.044},
      {"d":"2023-11-01","v":0.038},{"d":"2023-11-05","v":0.04},{"d":"2023-11-08","v":0.042},{"d":"2023-11-13","v":0.046},{"d":"2023-11-17","v":0.044},{"d":"2023-11-21","v":0.044},{"d":"2023-11-25","v":0.048},{"d":"2023-11-27","v":0.05},
      {"d":"2023-12-02","v":0.046},{"d":"2023-12-04","v":0.04},{"d":"2023-12-07","v":0.036},{"d":"2023-12-10","v":0.03},{"d":"2023-12-12","v":0.022},{"d":"2023-12-15","v":0.015},{"d":"2023-12-17","v":0.001},{"d":"2023-12-20","v":-0.009},{"d":"2023-12-22","v":-0.005},{"d":"2023-12-25","v":0.005},{"d":"2023-12-27","v":0.017},{"d":"2023-12-30","v":0.022},
      {"d":"2024-01-01","v":0.036},{"d":"2024-01-04","v":0.05},{"d":"2024-01-06","v":0.052},{"d":"2024-01-09","v":0.054},{"d":"2024-01-12","v":0.048},{"d":"2024-01-14","v":0.042},{"d":"2024-01-17","v":0.022},{"d":"2024-01-20","v":-0.007},{"d":"2024-01-22","v":-0.035},{"d":"2024-01-25","v":-0.052},{"d":"2024-01-27","v":-0.056},{"d":"2024-01-29","v":-0.046},
      {"d":"2024-02-01","v":-0.039},{"d":"2024-02-04","v":-0.029},{"d":"2024-02-07","v":-0.025},{"d":"2024-02-09","v":-0.019},{"d":"2024-02-12","v":-0.009},{"d":"2024-02-14","v":-0.001},{"d":"2024-02-16","v":0.017},{"d":"2024-02-18","v":0.032},{"d":"2024-02-20","v":0.042},{"d":"2024-02-22","v":0.05},{"d":"2024-02-24","v":0.042},{"d":"2024-02-26","v":0.038},{"d":"2024-02-28","v":0.042},
      {"d":"2024-03-02","v":0.044},{"d":"2024-03-04","v":0.05},{"d":"2024-03-06","v":0.066},{"d":"2024-03-08","v":0.083},{"d":"2024-03-10","v":0.107},{"d":"2024-03-11","v":0.125},{"d":"2024-03-13","v":0.119},{"d":"2024-03-15","v":0.107},{"d":"2024-03-16","v":0.091},{"d":"2024-03-19","v":0.07},{"d":"2024-03-21","v":0.05},{"d":"2024-03-23","v":0.026},{"d":"2024-03-24","v":0.005},{"d":"2024-03-26","v":-0.003},{"d":"2024-03-28","v":-0.013},{"d":"2024-03-30","v":0.001},
      {"d":"2024-04-02","v":0.013},{"d":"2024-04-04","v":0.02},{"d":"2024-04-07","v":0.026},{"d":"2024-04-09","v":0.026},{"d":"2024-04-12","v":0.026},{"d":"2024-04-15","v":0.042},{"d":"2024-04-17","v":0.044},{"d":"2024-04-20","v":0.046},{"d":"2024-04-22","v":0.048},{"d":"2024-04-24","v":0.052},{"d":"2024-04-26","v":0.042},{"d":"2024-04-29","v":0.009},
      {"d":"2024-05-01","v":-0.011},{"d":"2024-05-04","v":-0.021},{"d":"2024-05-07","v":-0.025},{"d":"2024-05-09","v":-0.023},{"d":"2024-05-13","v":-0.021},{"d":"2024-05-15","v":-0.017},{"d":"2024-05-16","v":-0.003},{"d":"2024-05-19","v":-0.005},{"d":"2024-05-22","v":-0.009},{"d":"2024-05-25","v":-0.013},{"d":"2024-05-28","v":-0.013},{"d":"2024-05-31","v":-0.035},
      {"d":"2024-06-02","v":-0.052},{"d":"2024-06-05","v":-0.054},{"d":"2024-06-07","v":-0.048},{"d":"2024-06-10","v":-0.048},{"d":"2024-06-13","v":-0.031},{"d":"2024-06-16","v":-0.029},{"d":"2024-06-18","v":-0.033},{"d":"2024-06-21","v":-0.039},{"d":"2024-06-24","v":-0.041},{"d":"2024-06-27","v":-0.048},{"d":"2024-06-29","v":-0.068},
      {"d":"2024-07-02","v":-0.084},{"d":"2024-07-04","v":-0.096},{"d":"2024-07-07","v":-0.084},{"d":"2024-07-09","v":-0.078},{"d":"2024-07-12","v":-0.064},{"d":"2024-07-14","v":-0.031},{"d":"2024-07-16","v":-0.003},{"d":"2024-07-18","v":0.013},{"d":"2024-07-20","v":0.017},{"d":"2024-07-23","v":0.024},{"d":"2024-07-25","v":0.026},{"d":"2024-07-27","v":0.024},{"d":"2024-07-30","v":0.017},
      {"d":"2024-08-01","v":0.007},{"d":"2024-08-04","v":-0.013},{"d":"2024-08-06","v":-0.025},{"d":"2024-08-09","v":-0.019},{"d":"2024-08-12","v":-0.015},{"d":"2024-08-15","v":-0.007},{"d":"2024-08-17","v":0.007},{"d":"2024-08-19","v":0.022},{"d":"2024-08-22","v":0.02},{"d":"2024-08-25","v":0.022},{"d":"2024-08-27","v":0.024},{"d":"2024-08-30","v":0.026},
      {"d":"2024-09-01","v":0.022},{"d":"2024-09-04","v":0.017},{"d":"2024-09-07","v":0.009},{"d":"2024-09-09","v":-0.001},{"d":"2024-09-12","v":-0.002},{"d":"2024-09-15","v":0.007},{"d":"2024-09-17","v":0.007},{"d":"2024-09-20","v":0.013},{"d":"2024-09-22","v":0.017},{"d":"2024-09-24","v":0.015},{"d":"2024-09-26","v":0.011},{"d":"2024-09-28","v":0.01}
    ],
    "last": [{"d":"2024-09-28","v":64200,"label":"$64.2K"}],
    "marks": [{"name":"CryptoQuant"}]
  },
  "layer": [
    {
      "encoding": {
        "y": {
          "type": "quantitative",
          "scale": {"domain": [-0.2042, 0.4299], "nice": false, "zero": false},
          "axis": {
            "orient": "left", "offset": 12, "title": null,
            "values": [-0.2,-0.15,-0.1,-0.05,0,0.05,0.1,0.15,0.2,0.25,0.3,0.35,0.4],
            "labelExpr": "toString(datum.value)",
            "labelFont": "Open Sans", "labelFontSize": 28, "labelColor": "#333333", "labelPadding": 26,
            "ticks": false,
            "domainColor": "#5a4af4", "domainWidth": 3.5,
            "grid": true, "gridColor": "#f1f1f4", "gridWidth": 1.5
          }
        }
      },
      "layer": [
        {
          "data": {"name": "marks"},
          "mark": {"type": "text", "font": "Open Sans", "fontSize": 95, "fontWeight": 600, "color": "#e4e4ec", "align": "center", "baseline": "middle"},
          "encoding": {
            "x": {"datum": {"year":2022,"month":5,"date":14,"utc":true}, "type": "temporal", "scale": {"type": "utc", "domain": [{"year":2020,"month":1,"date":2,"utc":true},{"year":2024,"month":9,"date":28,"utc":true}]}},
            "y": {"datum": 0.118},
            "text": {"field": "name"}
          }
        },
        {
          "data": {"name": "marks"},
          "mark": {"type": "rule", "color": "#c6c6d2", "strokeWidth": 1.5, "strokeDash": [12, 8]},
          "encoding": {"y": {"datum": 0}}
        },
        {
          "data": {"name": "sma"},
          "mark": {"type": "line", "strokeWidth": 2.2, "strokeDash": [3, 1.5]},
          "encoding": {
            "x": {"field": "d", "type": "temporal", "scale": {"type": "utc", "domain": [{"year":2020,"month":1,"date":2,"utc":true},{"year":2024,"month":9,"date":28,"utc":true}]}},
            "y": {"field": "v"},
            "color": {
              "datum": "SMA(14)",
              "scale": {"domain": ["Price USD", "Coinbase Premium Index", "SMA(14)"], "range": ["#1a1a1a", "#8a8a8a", "#5a4af4"]},
              "legend": {
                "orient": "none", "legendX": 722, "legendY": -70, "direction": "horizontal", "columns": 3,
                "title": null, "padding": 0,
                "symbolType": "stroke", "symbolSize": 961, "symbolStrokeWidth": 2,
                "labelFont": "Open Sans", "labelFontSize": 30, "labelColor": "#222222", "labelOffset": 10, "labelLimit": 0,
                "columnPadding": 33,
                "encode": {
                  "labels": {"update": {"fill": {"signal": "datum.value === 'Coinbase Premium Index' ? '#8a8a8a' : '#222222'"}}},
                  "symbols": {"update": {
                    "strokeDash": {"signal": "datum.value === 'SMA(14)' ? [3, 1.5] : [1, 0]"},
                    "strokeWidth": {"signal": "datum.value === 'Coinbase Premium Index' ? 4 : 2"}
                  }}
                }
              }
            }
          }
        }
      ]
    },
    {
      "encoding": {
        "y": {
          "type": "quantitative",
          "scale": {"type": "log", "domain": [4173, 82990], "nice": false},
          "axis": {
            "orient": "right", "offset": 12, "title": null,
            "values": [5000,6000,7000,8000,9000,10000,20000,30000,40000,50000,60000,70000,80000],
            "labelExpr": "'$' + (datum.value / 1000) + 'K'",
            "labelFont": "Open Sans", "labelFontSize": 28, "labelColor": "#222222", "labelPadding": 26,
            "ticks": false,
            "domainColor": "#111111", "domainWidth": 3.5,
            "grid": false
          }
        }
      },
      "layer": [
        {
          "data": {"name": "price"},
          "mark": {"type": "line", "strokeWidth": 2.2},
          "encoding": {
            "x": {
              "field": "d", "type": "temporal",
              "scale": {"type": "utc", "domain": [{"year":2020,"month":1,"date":2,"utc":true},{"year":2024,"month":9,"date":28,"utc":true}]},
              "axis": {
                "values": [
                  {"year":2020,"month":5,"date":1,"utc":true},{"year":2020,"month":9,"date":1,"utc":true},
                  {"year":2021,"month":1,"date":1,"utc":true},{"year":2021,"month":5,"date":1,"utc":true},{"year":2021,"month":9,"date":1,"utc":true},
                  {"year":2022,"month":1,"date":1,"utc":true},{"year":2022,"month":5,"date":1,"utc":true},{"year":2022,"month":9,"date":1,"utc":true},
                  {"year":2023,"month":1,"date":1,"utc":true},{"year":2023,"month":5,"date":1,"utc":true},{"year":2023,"month":9,"date":1,"utc":true},
                  {"year":2024,"month":1,"date":1,"utc":true},{"year":2024,"month":5,"date":1,"utc":true},{"year":2024,"month":9,"date":1,"utc":true}
                ],
                "labelExpr": "utcFormat(datum.value, '%Y %b')",
                "labelFont": "Open Sans", "labelFontSize": 25, "labelColor": "#6b6b76", "labelFlush": false, "labelOverlap": false,
                "labelPadding": 10,
                "domainColor": "#dcdce4", "domainWidth": 2,
                "tickColor": "#dcdce4", "tickWidth": 1.5, "tickSize": 15,
                "grid": false,
                "title": "© CryptoQuant. All rights reserved",
                "titleFont": "Open Sans", "titleFontSize": 21, "titleFontWeight": "normal", "titleColor": "#6e6e78",
                "titleAnchor": "end", "titleAlign": "right", "titleBaseline": "middle", "titleX": 2341, "titleY": 84
              }
            },
            "y": {"field": "v"},
            "color": {"datum": "Price USD"}
          }
        },
        {
          "data": {"name": "last"},
          "mark": {"type": "point", "shape": "M-1,-0.55H1V0.55H-1Z", "filled": true, "size": 12321, "color": "#111111", "opacity": 1, "xOffset": 69},
          "encoding": {
            "x": {"field": "d", "type": "temporal", "scale": {"type": "utc", "domain": [{"year":2020,"month":1,"date":2,"utc":true},{"year":2024,"month":9,"date":28,"utc":true}]}},
            "y": {"field": "v"}
          }
        },
        {
          "data": {"name": "last"},
          "mark": {"type": "text", "dx": 69, "font": "Open Sans", "fontSize": 29, "color": "#ffffff", "align": "center", "baseline": "middle"},
          "encoding": {
            "x": {"field": "d", "type": "temporal", "scale": {"type": "utc", "domain": [{"year":2020,"month":1,"date":2,"utc":true},{"year":2024,"month":9,"date":28,"utc":true}]}},
            "y": {"field": "v"},
            "text": {"field": "label"}
          }
        }
      ]
    }
  ],
  "resolve": {"scale": {"y": "independent"}, "axis": {"y": "independent"}}
}
